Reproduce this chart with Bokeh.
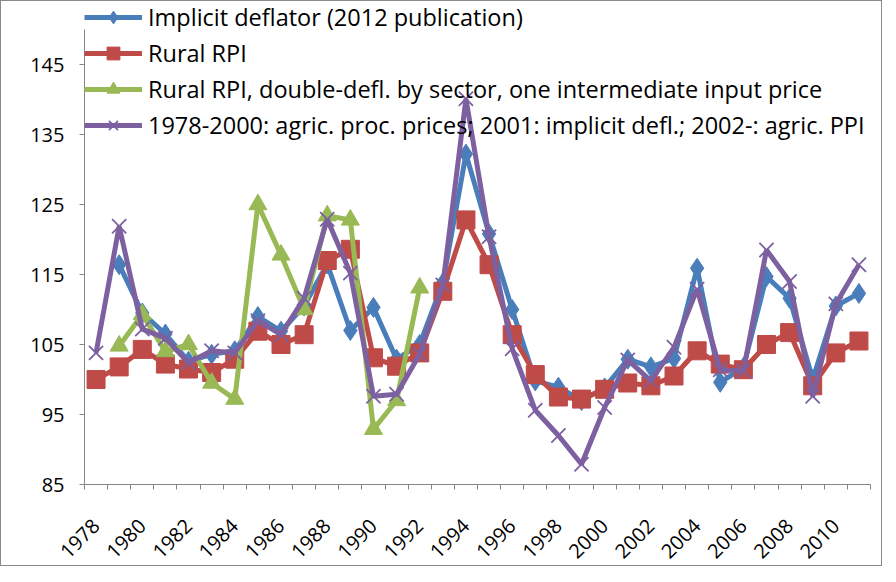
import math
from bokeh.plotting import figure
from bokeh.models import Range1d, FixedTicker, Legend, LegendItem
from bokeh.embed import file_html
from bokeh.resources import INLINE

nan = float("nan")
years = list(range(1978, 2012))
implicit_deflator = [nan, 116.4, 109.5, 106.5, 102.6, 103.6, 104.1, 109.0, 106.9, 110.5,
                     116.5, 107.0, 110.3, 102.9, 105.0, 113.8, 132.2, 120.8, 110.0, 99.8,
                     98.9, 97.0, 98.8, 102.9, 101.8, 103.0, 115.9, 99.6, 101.7, 114.7,
                     111.6, 100.0, 110.5, 112.3]
rural_rpi = [100.0, 101.8, 104.3, 102.2, 101.5, 101.0, 102.9, 106.9, 105.0, 106.4,
             117.0, 118.6, 103.1, 101.9, 103.8, 112.6, 122.8, 116.4, 106.4, 100.7,
             97.5, 97.2, 98.6, 99.5, 99.1, 100.5, 104.1, 102.2, 101.4, 105.0,
             106.7, 99.1, 103.8, 105.5]
rural_rpi_double = [nan, 104.8, 109.3, 104.0, 105.0, 99.5, 97.2, 125.0, 117.8, 110.0,
                    123.4, 122.8, 92.9, 97.0, 113.1, nan, nan, nan, nan, nan,
                    nan, nan, nan, nan, nan, nan, nan, nan, nan, nan,
                    nan, nan, nan, nan]
agric_prices = [103.8, 121.9, 107.2, 105.9, 102.4, 104.1, 103.8, 108.4, 106.4, 111.6,
                122.9, 115.2, 97.6, 97.9, 103.6, 113.5, 140.1, 120.4, 104.4, 95.6,
                92.0, 87.9, 96.0, 102.8, 99.8, 104.6, 112.9, 101.4, 101.2, 118.5,
                114.0, 97.6, 110.8, 116.4]
series_names = ["Implicit deflator (2012 publication)",
                "Rural RPI",
                "Rural RPI, double-defl. by sector, one intermediate input price",
                "1978-2000: agric. proc. prices; 2001: implicit defl.; 2002-: agric. PPI"]
y_ticks = [85, 95, 105, 115, 125, 135, 145]
x_label_years = list(range(1978, 2011, 2))

FONT = "Open Sans"
AXIS_COLOR = "#868686"

p = figure(width=882, height=566, output_backend="svg", toolbar_location=None,
           x_range=Range1d(1977.5, 2011.5), y_range=Range1d(85, 154.0),
           min_border_left=83, min_border_right=13, min_border_top=0,
           min_border_bottom=81)
p.styles = {"border": "1px solid #898989"}
p.outline_line_color = None
p.xgrid.visible = False
p.ygrid.visible = False

# y axis
p.yaxis.ticker = FixedTicker(ticks=y_ticks)
p.yaxis.bounds = (85, 150)
p.yaxis.axis_line_color = AXIS_COLOR
p.yaxis.major_tick_line_color = AXIS_COLOR
p.yaxis.major_tick_out = 5
p.yaxis.major_tick_in = 0
p.yaxis.minor_tick_line_color = None
p.yaxis.major_label_standoff = 15
p.yaxis.major_label_text_font = FONT
p.yaxis.major_label_text_font_size = "20px"
p.yaxis.major_label_text_color = "black"

# x axis
p.xaxis.ticker = FixedTicker(ticks=x_label_years,
                             minor_ticks=[y - 0.5 for y in years] + [years[-1] + 0.5])
p.xaxis.axis_line_color = AXIS_COLOR
p.xaxis.major_tick_line_color = None
p.xaxis.minor_tick_line_color = AXIS_COLOR
p.xaxis.minor_tick_out = 5
p.xaxis.minor_tick_in = 0
p.xaxis.major_label_orientation = math.pi / 4
p.xaxis.major_label_standoff = 32
p.xaxis.major_label_text_font = FONT
p.xaxis.major_label_text_font_size = "20px"
p.xaxis.major_label_text_color = "black"

styles = [
    ("#4A7EBB", "diamond", 20, implicit_deflator, 1),
    ("#BE4B48", "square", 18, rural_rpi, 1),
    ("#98B954", "triangle", 18, rural_rpi_double, 1),
    ("#7D60A0", "x", 20, agric_prices, 1.8),
]
items = []
for (color, marker, size, vals, mlw), name in zip(styles, series_names):
    ln = p.line(years, vals, line_width=5, color=color)
    if marker == "x":
        sc = p.scatter(years, vals, marker=marker, size=size, line_color=color,
                       line_width=mlw)
    else:
        sc = p.scatter(years, vals, marker=marker, size=size, fill_color=color,
                       line_color=color, line_width=mlw)
    items.append(LegendItem(label=name, renderers=[ln, sc]))

legend = Legend(items=items, location="top_left")
legend.margin = 0
legend.padding = 10
legend.spacing = 4
legend.glyph_width = 58
legend.glyph_height = 32
legend.label_height = 20
legend.label_standoff = 6
legend.label_text_font = FONT
legend.label_text_font_size = "23.5px"
legend.label_text_color = "black"
legend.background_fill_alpha = 0
legend.border_line_color = None
p.add_layout(legend)

open("out.html", "w").write(file_html(p, INLINE))
